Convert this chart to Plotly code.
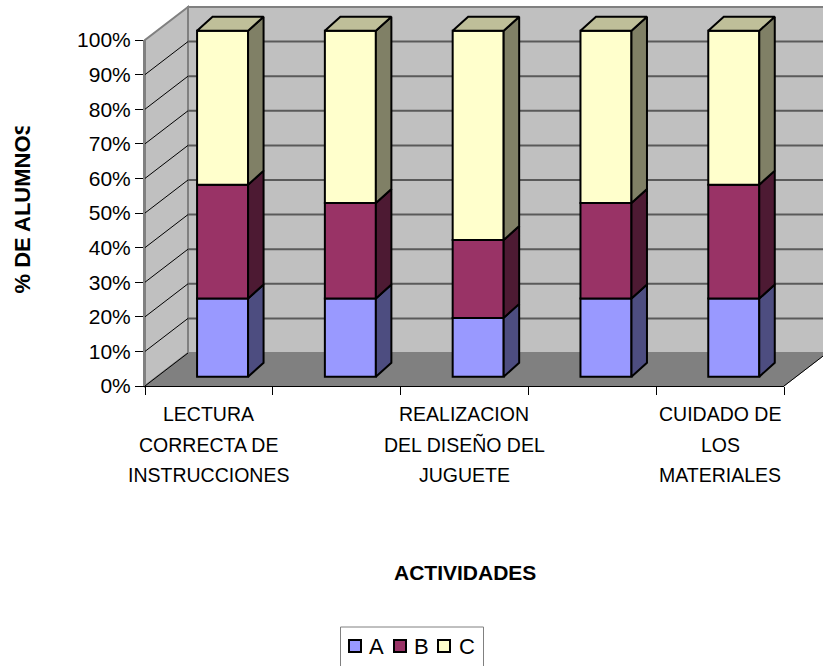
import plotly.graph_objects as go

# ---- data (percent of students) ----
series_names = ["A", "B", "C"]
values_a = [22.6, 22.6, 17.0, 22.6, 22.6]
values_b = [32.9, 27.6, 22.5, 27.6, 32.9]
values_c = [44.5, 49.8, 60.5, 49.8, 44.5]
category_labels = [
    ["LECTURA", "CORRECTA DE", "INSTRUCCIONES"],
    ["REALIZACION", "DEL DISEÑO DEL", "JUGUETE"],
    ["CUIDADO DE", "LOS", "MATERIALES"],
]
label_slots = [0.5, 2.5, 4.5]
percent_ticks = [0, 10, 20, 30, 40, 50, 60, 70, 80, 90, 100]
percent_labels = ["0%", "10%", "20%", "30%", "40%", "50%", "60%", "70%", "80%", "90%", "100%"]

# ---- styling ----
face_colors = ["#9999FF", "#993366", "#FFFFCC"]
side_colors = ["#4D4D80", "#4D1A33", "#808066"]
top_color = "#BFBF99"
FONT = "Liberation Sans, Arial, sans-serif"

W, H = 823, 666
X0, X1 = 145.0, 784.0   # front plane, px
Y0, Y100 = 386.0, 40.0
XS = (X1 - X0) / 5.0    # px per category
YS = (Y0 - Y100) / 100.0  # px per percent
DEPTH_X, DEPTH_Y = 43.0, 33.0  # floor depth, px


def px(x):
    return x / W


def py(y):
    return 1 - y / H


def poly(points, fill, line="#808080", width=2, layer="below"):
    path = "M" + " L".join(f"{px(a):.5f},{py(b):.5f}" for a, b in points) + " Z"
    return dict(type="path", xref="paper", yref="paper", path=path, fillcolor=fill,
                line=dict(color=line, width=width), layer=layer)


def seg(x0, y0, x1, y1, color, width=1):
    return dict(type="line", xref="paper", yref="paper", x0=px(x0), y0=py(y0), x1=px(x1), y1=py(y1),
                line=dict(color=color, width=width), layer="below")


shapes = [
    poly([(X0 + DEPTH_X, Y0 - DEPTH_Y), (X0 + DEPTH_X, Y100 - DEPTH_Y),
          (X1 + DEPTH_X, Y100 - DEPTH_Y), (X1 + DEPTH_X, Y0 - DEPTH_Y)], "#C0C0C0"),
    poly([(X0, Y0), (X0, Y100), (X0 + DEPTH_X, Y100 - DEPTH_Y), (X0 + DEPTH_X, Y0 - DEPTH_Y)], "#C0C0C0"),
    poly([(X0, Y0), (X1, Y0), (X1 + DEPTH_X, Y0 - DEPTH_Y), (X0 + DEPTH_X, Y0 - DEPTH_Y)], "#808080", "#808080", 1),
]
for t in percent_ticks[1:-1]:
    yy = Y0 - t * YS
    shapes.append(seg(X0 + DEPTH_X, yy - DEPTH_Y, X1 + DEPTH_X, yy - DEPTH_Y, "#5A5A5A", 2))
for t in percent_ticks[:-1]:
    yy = Y0 - t * YS
    shapes.append(seg(X0, yy, X0 + DEPTH_X, yy - DEPTH_Y, "#000000", 1))
shapes.append(seg(X1, Y0, X1 + DEPTH_X, Y0 - DEPTH_Y, "#000000", 1))

# ---- bars on a full-page helper axis sharing the value scale ----
bar_x = [i + 0.607 for i in range(5)]
bar_w = 51.0 / XS
lift = 9.3 / YS
side_dx = 15.5 / XS
side_dy = 14.0 / YS

fig = go.Figure()
# carrier for the visible axes
fig.add_trace(go.Scatter(x=[0], y=[0], mode="none", xaxis="x", yaxis="y", showlegend=False, hoverinfo="skip"))

base = [lift] * 5
for name, vals, face, side in zip(series_names, [values_a, values_b, values_c], face_colors, side_colors):
    fig.add_trace(go.Bar(x=bar_x, y=vals, base=base, width=bar_w, name=name, xaxis="x2", yaxis="y2",
                         marker=dict(color=face, line=dict(color="#000000", width=2)), showlegend=False))
    xs, ys = [], []
    for bx, b, v in zip(bar_x, base, vals):
        r = bx + bar_w / 2
        xs += [r, r + side_dx, r + side_dx, r, r, None]
        ys += [b, b + side_dy, b + v + side_dy, b + v, b, None]
    fig.add_trace(go.Scatter(x=xs, y=ys, mode="lines", fill="toself", fillcolor=side, xaxis="x2", yaxis="y2",
                             line=dict(color="#000000", width=2), showlegend=False, hoverinfo="skip"))
    base = [b + v for b, v in zip(base, vals)]

xs, ys = [], []
for bx, b in zip(bar_x, base):
    l, r = bx - bar_w / 2, bx + bar_w / 2
    xs += [l, r, r + side_dx, l + side_dx, l, None]
    ys += [b, b, b + side_dy, b + side_dy, b, None]
fig.add_trace(go.Scatter(x=xs, y=ys, mode="lines", fill="toself", fillcolor=top_color, xaxis="x2", yaxis="y2",
                         line=dict(color="#000000", width=2), showlegend=False, hoverinfo="skip"))

# ---- text ----
annotations = []
for slot, lines in zip(label_slots, category_labels):
    for k, line in enumerate(lines):
        annotations.append(dict(xref="paper", yref="paper", x=px(X0 + slot * XS), y=py(414 + k * 30.5),
                                text=line, showarrow=False, xanchor="center", yanchor="middle",
                                font=dict(family=FONT, size=19.5, color="#000000")))
annotations.append(dict(xref="paper", yref="paper", x=px(465), y=py(572), text="<b>ACTIVIDADES</b>",
                        showarrow=False, xanchor="center", yanchor="middle",
                        font=dict(family=FONT, size=21, color="#000000")))
annotations.append(dict(xref="paper", yref="paper", x=px(22), y=py(210.5), text="<b>% DE ALUMNOS</b>",
                        showarrow=False, textangle=-90, width=167, height=26, align="left",
                        xanchor="center", yanchor="middle",
                        font=dict(family=FONT, size=22, color="#000000")))

# ---- legend ----
shapes.append(dict(type="rect", xref="paper", yref="paper", x0=px(340.5), x1=px(483.5), y0=py(627), y1=py(672),
                   line=dict(color="#808080", width=1), fillcolor="#FFFFFF", layer="below"))
for name, face, sx, tx in zip(series_names, face_colors, [349, 394, 438], [376, 421.5, 467]):
    shapes.append(dict(type="rect", xref="paper", yref="paper", x0=px(sx), x1=px(sx + 12), y0=py(640), y1=py(652),
                       line=dict(color="#000000", width=2), fillcolor=face, layer="below"))
    annotations.append(dict(xref="paper", yref="paper", x=px(tx), y=py(646), text=name, showarrow=False,
                            xanchor="center", yanchor="middle",
                            font=dict(family=FONT, size=22, color="#000000")))

fig.update_layout(
    template="none",
    width=W, height=H, margin=dict(l=0, r=0, t=0, b=0, pad=0), autosize=False,
    paper_bgcolor="#FFFFFF", plot_bgcolor="rgba(0,0,0,0)",
    barmode="overlay", showlegend=False, shapes=shapes, annotations=annotations,
    xaxis=dict(domain=[px(X0), px(X1)], range=[0, 5], anchor="y", showgrid=False, zeroline=False, automargin=False,
               showline=True, linecolor="#000000", linewidth=1, ticks="outside", ticklen=8,
               tickcolor="#000000", tickvals=[0, 1, 2, 3, 4, 5], showticklabels=False),
    yaxis=dict(domain=[py(Y0), py(Y100)], range=[0, 100], anchor="x", showgrid=False, zeroline=False, automargin=False,
               showline=True, linecolor="#808080", linewidth=2, ticks="outside", ticklen=8,
               tickcolor="#000000", tickvals=percent_ticks, ticktext=percent_labels,
               tickfont=dict(family=FONT, size=21, color="#000000")),
    xaxis2=dict(domain=[0, 1], range=[-X0 / XS, (W - X0) / XS], anchor="y2", visible=False, automargin=False),
    yaxis2=dict(domain=[0, 1], range=[(Y0 - H) / YS, Y0 / YS], anchor="x2", visible=False, automargin=False),
)

fig.write_html("out.html", config={"displayModeBar": False},
               post_script="document.body.style.margin='0';document.documentElement.style.overflow='hidden';")
